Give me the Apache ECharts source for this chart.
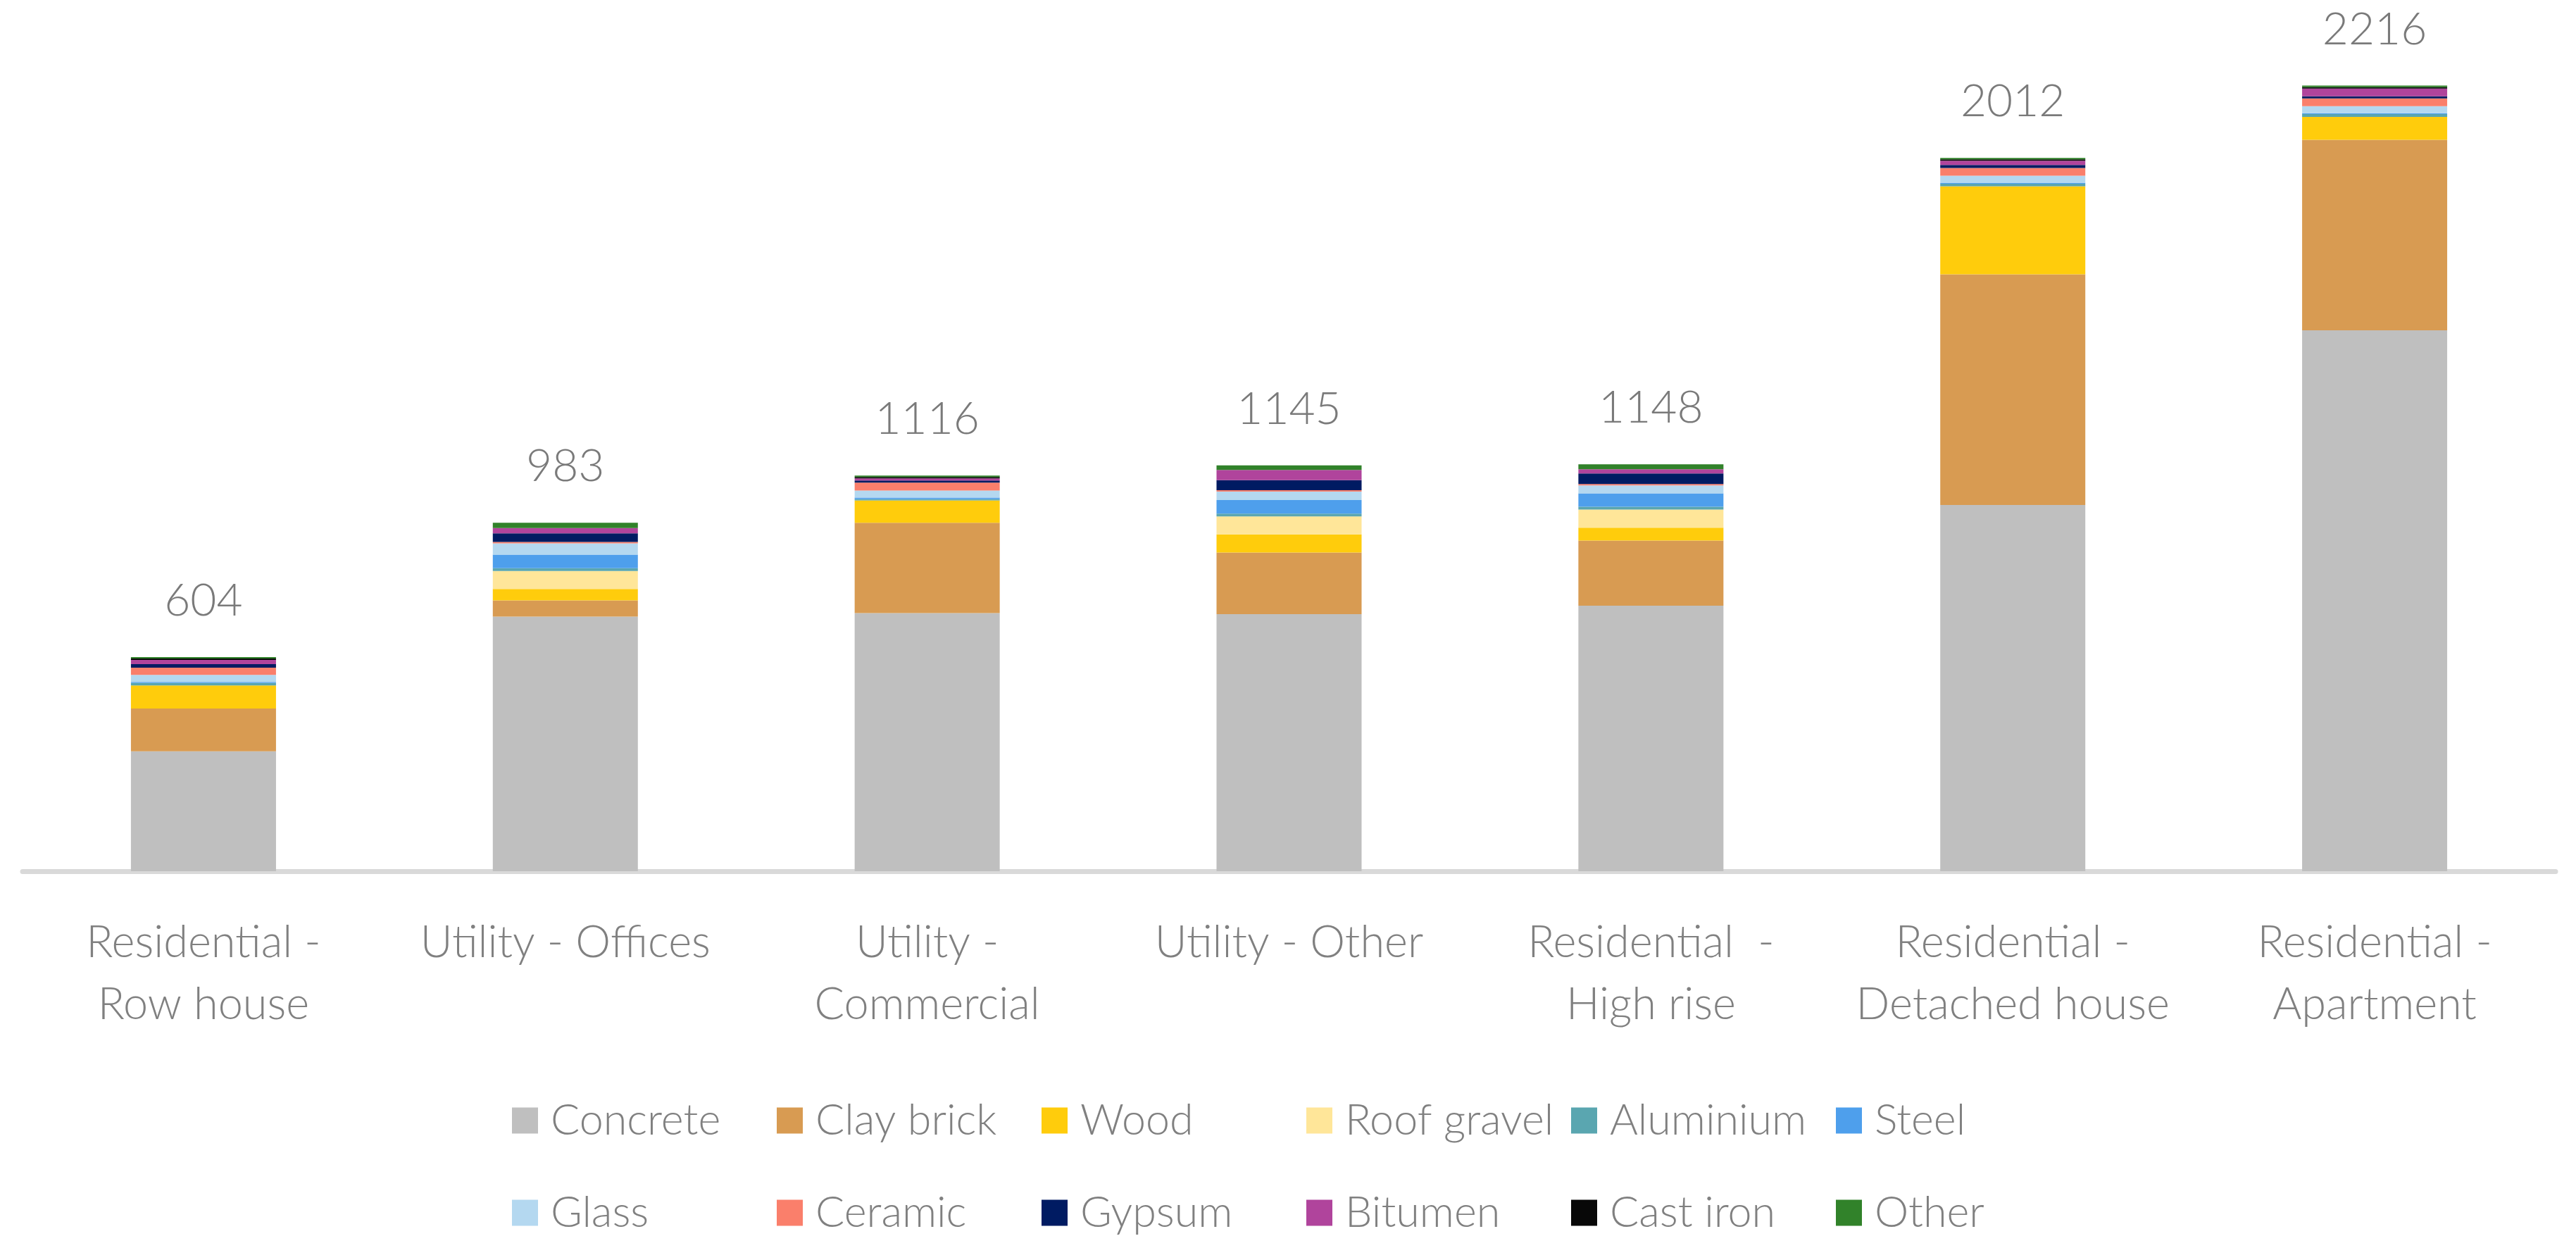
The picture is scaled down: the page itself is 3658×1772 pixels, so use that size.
<!DOCTYPE html>
<html>
<head>
<meta charset="utf-8">
<script src="https://cdn.jsdelivr.net/npm/echarts@6/dist/echarts.min.js"></script>
<style>
html,body{margin:0;padding:0;background:#fff;}
#chart{width:3658px;height:1772px;}
</style>
</head>
<body>
<div id="chart"></div>
<script>
const categories = [
  "Residential -\nRow house",
  "Utility - Offices",
  "Utility -\nCommercial",
  "Utility - Other",
  "Residential  -\nHigh rise",
  "Residential -\nDetached house",
  "Residential -\nApartment"
];
const totals = [604, 983, 1116, 1145, 1148, 2012, 2216];

const concrete   = [338, 718, 728, 725, 749, 1033, 1526];
const clayBrick  = [121, 46, 255, 174, 184, 651, 537];
const wood       = [65, 32, 63, 51, 36, 248, 65];
const roofGravel = [0, 51, 0, 51, 51, 0, 0];
const aluminium  = [7, 8, 4, 8, 8, 7, 8];
const steel      = [3, 38, 4, 38, 38, 3, 2];
const glass      = [20, 32, 20, 24, 22, 20, 20];
const ceramic    = [20, 4, 22, 4, 4, 22, 22];
const gypsum     = [10, 24, 6, 28, 30, 8, 6];
const bitumen    = [12, 15, 6, 29, 12, 12, 22];
const castIron   = [4, 0, 4, 0, 0, 4, 4];
const other      = [4, 15, 4, 13, 14, 4, 4];

const seriesNames = ["Concrete","Clay brick","Wood","Roof gravel","Aluminium","Steel","Glass","Ceramic","Gypsum","Bitumen","Cast iron","Other"];
const seriesData = [concrete, clayBrick, wood, roofGravel, aluminium, steel, glass, ceramic, gypsum, bitumen, castIron, other];
const colors = ["#BFBFBF","#D89B52","#FFCC0C","#FFE699","#5AA6B0","#4E9FEC","#B4D8F0","#FA7F6B","#001B62","#B0449C","#080808","#31822A"];

const FONT = "Lato, 'Open Sans', sans-serif";

const chart = echarts.init(document.getElementById('chart'), null, {renderer:'canvas'});

const series = seriesNames.map((n, i) => ({
  name: n,
  type: 'bar',
  stack: 'total',
  barWidth: 206,
  data: seriesData[i],
  itemStyle: {color: colors[i]},
  emphasis: {disabled: true}
}));
series.push({
  name: 'Total',
  type: 'scatter',
  data: totals,
  symbol: 'circle',
  symbolSize: 1,
  itemStyle: {color: 'rgba(0,0,0,0)'},
  silent: true,
  z: 10,
  label: {
    show: true,
    position: 'top',
    distance: 46,
    color: '#595959',
    fontFamily: FONT,
    fontWeight: 300,
    fontSize: 64,
    lineHeight: 66
  }
});

const legendCommon = {
  left: 727,
  orient: 'horizontal',
  itemGap: 0,
  itemWidth: 37,
  itemHeight: 37,
  padding: 0,
  icon: 'rect',
  textStyle: {
    color: '#808080',
    fontFamily: FONT,
    fontWeight: 300,
    fontSize: 61,
    lineHeight: 70,
    width: 321,
    overflow: 'truncate',
    padding: [0, 0, 0, 13]
  }
};

chart.setOption({
  animation: false,
  backgroundColor: '#ffffff',
  color: colors,
  grid: {left: 32, right: 29, top: 29, bottom: 535, containLabel: false},
  legend: [
    Object.assign({}, legendCommon, {top: 1556, data: seriesNames.slice(0, 6)}),
    Object.assign({}, legendCommon, {top: 1687, data: seriesNames.slice(6)})
  ],
  xAxis: {
    type: 'category',
    data: categories,
    offset: 3.5,
    axisTick: {show: false},
    axisLine: {show: true, lineStyle: {color: '#D9D9D9', width: 7}},
    axisLabel: {
      interval: 0,
      margin: 54,
      color: '#808080',
      fontFamily: FONT,
      fontWeight: 300,
      fontSize: 63,
      lineHeight: 88
    }
  },
  yAxis: {
    type: 'value',
    min: 0,
    max: 2400,
    show: false,
    splitLine: {show: false}
  },
  series: series
});
</script>
</body>
</html>
